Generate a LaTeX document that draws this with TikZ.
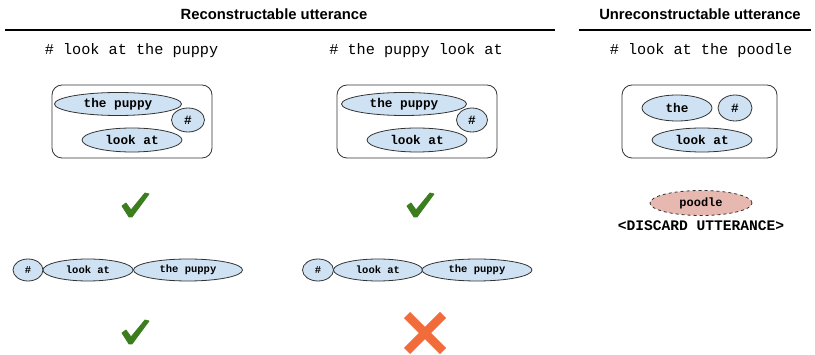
\documentclass[tikz,border=0pt]{standalone}
\usepackage{fontspec}
\usetikzlibrary{shapes.geometric}
\newfontfamily\arialf{Liberation Sans}
\newfontfamily\monof{Liberation Mono}
\definecolor{bluefill}{HTML}{CFE2F3}
\definecolor{pinkfill}{HTML}{E6B8AF}
\definecolor{edgegray}{HTML}{333333}
\definecolor{checkgreen}{HTML}{3C7D1E}
\definecolor{crossorange}{HTML}{F26B3A}
\tikzset{
  title/.style={font=\arialf\bfseries\fontsize{14.8}{17}\selectfont, inner sep=0pt},
  utt/.style={font=\monof\fontsize{15.2}{18}\selectfont, inner sep=0pt},
  bigov/.style={ellipse, draw=edgegray, line width=0.8pt, fill=bluefill, inner sep=0pt,
    font=\monof\bfseries\fontsize{12.7}{14}\selectfont},
  smallov/.style={ellipse, draw=edgegray, line width=0.8pt, fill=bluefill, inner sep=0pt,
    minimum height=22pt, font=\monof\bfseries\fontsize{10.5}{12}\selectfont},
  groupbox/.style={draw=edgegray, line width=0.8pt, rounded corners=10pt},
  rule/.style={line width=2.4pt, black},
  checkmark/.style={fill=checkgreen, draw=checkgreen, line width=0.8pt, line join=round},
  crossbar/.style={line width=8.5pt, crossorange}
}
\begin{document}
\begin{tikzpicture}[x=1pt, y=-1pt]
\useasboundingbox (0,0) rectangle (815,355);

% titles and rules
\node[title] (t1) at (274,14) {Reconstructable utterance};
\node[title] (t2) at (700,14) {Unreconstructable utterance};
\coordinate (l1a) at (5,30); \coordinate (l1b) at (555,30);
\coordinate (l2a) at (579,30); \coordinate (l2b) at (811,30);
\draw[rule] (l1a) -- (l1b);
\draw[rule] (l2a) -- (l2b);

% utterances
\node[utt] (u1) at (131.5,51) {\# look at the puppy};
\node[utt] (u2) at (416,51) {\# the puppy look at};
\node[utt] (u3) at (701,51) {\# look at the poodle};

% box 1
\draw[groupbox] (52,85) rectangle (212,158);
\node[bigov, minimum width=127pt, minimum height=23pt] (a1) at (118,104) {the puppy};
\node[bigov, minimum width=33pt, minimum height=24pt] (a2) at (188,120) {\#};
\node[bigov, minimum width=100pt, minimum height=24pt] (a3) at (132,140) {look at};

% box 2
\draw[groupbox] (337,85) rectangle (497,158);
\node[bigov, minimum width=125pt, minimum height=23pt] (b1) at (404,104) {the puppy};
\node[bigov, minimum width=31pt, minimum height=24pt] (b2) at (472,120) {\#};
\node[bigov, minimum width=100pt, minimum height=24pt] (b3) at (417,140) {look at};

% box 3
\draw[groupbox] (622,85) rectangle (777,158);
\node[bigov, minimum width=70pt, minimum height=26pt] (c1) at (677,108) {the};
\node[bigov, minimum width=34pt, minimum height=26pt] (c2) at (735,108) {\#};
\node[bigov, minimum width=100pt, minimum height=24pt] (c3) at (702,140) {look at};

% poodle + discard
\node[ellipse, draw=edgegray, dashed, line width=0.8pt, fill=pinkfill, inner sep=0pt,
  minimum width=102pt, minimum height=25pt,
  font=\monof\bfseries\fontsize{12}{14}\selectfont] (p) at (701,203) {poodle};
\node[font=\monof\bfseries\fontsize{14.6}{17}\selectfont, inner sep=0pt] (d) at (701,226) {<DISCARD UTTERANCE>};

% check marks
\foreach \cx/\cy in {135/205, 420/205, 135/332}{
  \fill[checkmark] (\cx-13,\cy+1) -- (\cx-9,\cy-2) -- (\cx-4,\cy+5) -- (\cx+10,\cy-12)
    -- (\cx+14,\cy-11) -- (\cx-3,\cy+12) -- (\cx-6,\cy+12) -- cycle;
}

% cross
\draw[crossbar] (407,315) -- (443,351);
\draw[crossbar] (443,315) -- (407,351);

% bottom row 1
\node[smallov, minimum width=30pt] (r1a) at (28,270) {\#};
\node[smallov, minimum width=90pt] (r1b) at (88,270) {look at};
\node[smallov, minimum width=109pt] (r1c) at (188,270) {the puppy};

% bottom row 2
\node[smallov, minimum width=31pt] (r2a) at (318,270) {\#};
\node[smallov, minimum width=89pt] (r2b) at (378,270) {look at};
\node[smallov, minimum width=110pt] (r2c) at (477,270) {the puppy};
\end{tikzpicture}
\end{document}
